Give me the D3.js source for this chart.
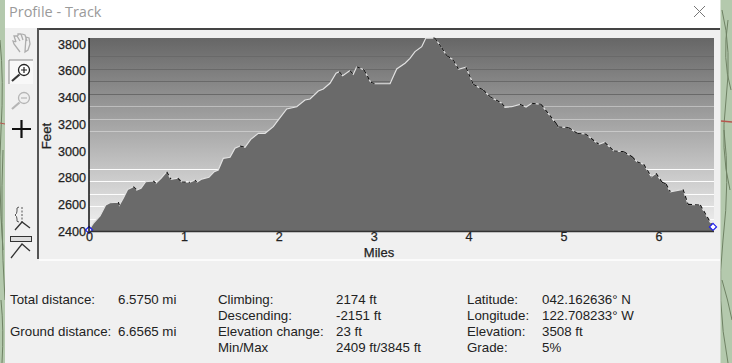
<!DOCTYPE html>
<html>
<head>
<meta charset="utf-8">
<script src="https://cdn.jsdelivr.net/npm/d3@7"></script>
<style>
html, body { margin: 0; padding: 0; background: #fff; overflow: hidden; }
text { font-family: "Liberation Sans", Arial, sans-serif; }
</style>
</head>
<body>
<div id="chart-area"></div>
<script>
// values
var miles = [0,.045,.116,.176,.221,.309,.319,.361,.408,.467,.503,.548,.597,.678,.703,.759,.819,.864,.935,.977,
  1.064,1.117,1.135,1.188,1.264,1.320,1.362,1.415,1.486,1.538,1.591,1.644,1.704,1.784,1.855,1.942,1.995,
  2.083,2.189,2.276,2.329,2.416,2.469,2.539,2.603,2.637,2.673,2.750,2.785,2.821,2.898,2.968,
  3.014,3.172,3.242,3.330,3.382,3.435,3.506,3.548,3.628,3.646,3.716,3.769,3.839,3.892,3.972,
  4.049,4.155,4.225,4.349,4.383,4.454,4.541,4.605,4.665,4.763,4.921,4.945,
  5.052,5.147,5.230,5.371,5.434,5.529,5.634,5.722,5.774,5.845,5.925,5.975,
  6.038,6.080,6.125,6.259,6.312,6.441,6.575];
var feet = [2409,2459,2514,2596,2613,2618,2594,2646,2713,2733,2708,2721,2770,2776,2758,2796,2845,2788,2796,2768,
  2766,2783,2766,2790,2803,2845,2858,2945,2953,3020,3037,3028,3087,3132,3132,3182,3232,
  3314,3331,3381,3389,3449,3464,3506,3581,3593,3563,3601,3574,3630,3606,3514,
  3503,3503,3613,3656,3693,3743,3780,3843,3845,3843,3773,3713,3681,3611,3626,
  3499,3456,3406,3357,3327,3331,3349,3329,3357,3349,3207,3179,
  3176,3131,3127,3050,3065,3000,2995,2957,2920,2900,2808,2833,
  2766,2753,2695,2713,2601,2596,2432];
var yTicks = [2400,2600,2800,3000,3200,3400,3600,3800];
var xTicks = [0,1,2,3,4,5,6];
var gridFeet = [3710,3616,3523,3429,3336,3242,3148,3055,2961,2868,2774,2681,2587,2494];

var statRows = [
  ["Total distance:", 10, 299], ["6.5750 mi", 118, 299],
  ["Ground distance:", 10, 331], ["6.6565 mi", 118, 331],
  ["Climbing:", 218, 299], ["2174 ft", 336, 299],
  ["Descending:", 218, 315], ["-2151 ft", 336, 315],
  ["Elevation change:", 218, 331], ["23 ft", 336, 331],
  ["Min/Max", 218, 347], ["2409 ft/3845 ft", 336, 347],
  ["Latitude:", 467, 299], ["042.162636° N", 542, 299],
  ["Longitude:", 467, 315], ["122.708233° W", 542, 315],
  ["Elevation:", 467, 331], ["3508 ft", 542, 331],
  ["Grade:", 467, 347], ["5%", 542, 347]
];

var W = 732, H = 363;
var svg = d3.select("#chart-area").append("svg")
  .attr("width", W).attr("height", H)
  .style("display", "block");

var x = d3.scaleLinear().domain([0, 6.575]).range([89, 713]);
var y = d3.scaleLinear().domain([2400, 3845]).range([231.2, 38]);

var defs = svg.append("defs");
var grad = defs.append("linearGradient").attr("id", "sky")
  .attr("x1", 0).attr("y1", 0).attr("x2", 0).attr("y2", 1);
grad.append("stop").attr("offset", "0%").attr("stop-color", "#666");
grad.append("stop").attr("offset", "100%").attr("stop-color", "#f2f2f2");

// map showing behind the window
svg.append("rect").attr("width", W).attr("height", H).attr("fill", "#b4c9ad");
var mapLines = ["M0 40 Q4 80 1 130 T3 250", "M3 150 Q0 220 5 300", "M1 300 Q4 330 2 363",
  "M722 10 Q732 50 726 100 T730 190", "M724 130 Q730 180 723 240 T728 363", "M728 20 Q722 60 731 90", "M722 280 Q728 300 732 320"];
svg.selectAll(".contour").data(mapLines).enter().append("path")
  .attr("class", "contour").attr("d", d => d)
  .attr("fill", "none").attr("stroke", "#6f8264").attr("stroke-width", 1);
svg.append("path").attr("d", "M721 121 L732 122").attr("stroke", "#b5574f").attr("stroke-width", 1.5);
svg.append("path").attr("d", "M0 123 L5 124").attr("stroke", "#b5574f").attr("stroke-width", 1);

// window
svg.append("rect").attr("x", 5).attr("y", 0).attr("width", 715.5).attr("height", 28).attr("fill", "#fff");
svg.append("rect").attr("x", 5).attr("y", 28).attr("width", 715.5).attr("height", 335).attr("fill", "#f0f0f0");
svg.append("text").attr("x", 9).attr("y", 17).attr("fill", "#9a9a9a")
  .style("font-family", "'Open Sans', sans-serif").style("font-size", "14.5px")
  .text("Profile - Track");
svg.append("path").attr("d", "M694 6 L705 17 M705 6 L694 17").attr("stroke", "#777").attr("stroke-width", 1).attr("fill", "none");

// panel borders
svg.append("rect").attr("x", 37).attr("y", 28).attr("width", 683).attr("height", 2).attr("fill", "#444");
svg.append("rect").attr("x", 37).attr("y", 28).attr("width", 2).attr("height", 231).attr("fill", "#555");
svg.append("rect").attr("x", 39).attr("y", 259).attr("width", 681).attr("height", 2).attr("fill", "#fbfbfb");

// toolbar icons
var tools = svg.append("g");
tools.append("rect").attr("x", 9).attr("y", 60).attr("width", 24).attr("height", 24).attr("fill", "#f8f8f8");
tools.append("path").attr("d", "M9 84 V60 H33").attr("fill", "none").attr("stroke", "#888");
// hand
tools.append("path").attr("d", "M20 52 L14 44 L13 41 L16 42 M16 42 L14 36 L17 36 L20 41 M18 36 L18 34 L21 34 L23 40 M22 34 L25 35 L27 41 M26 37 L29 38 L30 44 L28 50 L25 52 Z")
  .attr("fill", "none").attr("stroke", "#adadad").attr("stroke-width", 1.3);
// zoom in
tools.append("circle").attr("cx", 24).attr("cy", 70).attr("r", 5.5).attr("fill", "#fff").attr("stroke", "#222").attr("stroke-width", 1.3);
tools.append("path").attr("d", "M21 70 H27 M24 67 V73").attr("stroke", "#222").attr("stroke-width", 1.2);
tools.append("path").attr("d", "M19.5 74.5 L12 81").attr("stroke", "#333").attr("stroke-width", 2.2);
// zoom out
tools.append("circle").attr("cx", 24).attr("cy", 98).attr("r", 5.5).attr("fill", "none").attr("stroke", "#b5b5b5").attr("stroke-width", 1.3);
tools.append("path").attr("d", "M21 98 H27").attr("stroke", "#b5b5b5").attr("stroke-width", 1.2);
tools.append("path").attr("d", "M19.5 102.5 L12 109").attr("stroke", "#b5b5b5").attr("stroke-width", 2.2);
// crosshair
tools.append("path").attr("d", "M12 129 H31 M21.5 120 V138").attr("stroke", "#111").attr("stroke-width", 2.2);
// profile tools
tools.append("path").attr("d", "M19 207 Q16 207 17 211 Q17 214 15 215 Q17 216 17 219 Q16 222 19 222").attr("fill", "none").attr("stroke", "#555");
tools.append("path").attr("d", "M22 207 V223").attr("stroke", "#555").attr("stroke-dasharray", "2 1.5");
tools.append("path").attr("d", "M15 230 L22 222 L30 228").attr("fill", "none").attr("stroke", "#333").attr("stroke-width", 1.3);
tools.append("rect").attr("x", 10.5).attr("y", 236.5).attr("width", 21).attr("height", 5).attr("fill", "#ddd").attr("stroke", "#333");
tools.append("path").attr("d", "M11 258 L22 244 L30 251").attr("fill", "none").attr("stroke", "#333").attr("stroke-width", 1.3);

// plot background
var plot = svg.append("g");
plot.append("rect").attr("x", 89).attr("y", 38).attr("width", 625).attr("height", y(2400) - 38)
  .attr("fill", "url(#sky)");

function gridColor(f) {
  if (f > 3400) return "#696969";
  if (f > 3300) return "#bdbdbd";
  if (f > 3200) return "#c4c4c4";
  if (f > 3100) return "#c9c9c9";
  if (f > 2900) return "none";
  return "#fdfdfd";
}
plot.selectAll(".grid").data(gridFeet).enter().append("line")
  .attr("class", "grid")
  .attr("x1", 89).attr("x2", 714)
  .attr("y1", d => Math.round(y(d)) + .5).attr("y2", d => Math.round(y(d)) + .5)
  .attr("stroke", gridColor).attr("stroke-width", 1.2);

// profile
var track = miles.map((m, i) => [m, feet[i]]);
var area = d3.area().x(d => x(d[0])).y0(y(2400)).y1(d => y(d[1]));
var line = d3.line().x(d => x(d[0])).y(d => y(d[1]));
plot.append("path").datum(track).attr("d", area).attr("fill", "#6a6a6a");
plot.append("path").datum(track).attr("d", line)
  .attr("fill", "none").attr("stroke", "#e2e2e2").attr("stroke-width", 1.2);
// downhill stretches get black dashes over the light line
var down = d3.pairs(track).filter(p => p[1][1] < p[0][1]);
plot.selectAll(".down").data(down).enter().append("path")
  .attr("class", "down").attr("d", line)
  .attr("fill", "none").attr("stroke", "#111").attr("stroke-width", 1.1)
  .attr("stroke-dasharray", "4 3");

// axes
var yAxis = d3.axisLeft(y).tickValues(yTicks).tickSize(0).tickPadding(3).tickFormat(d3.format("d"));
var xAxis = d3.axisBottom(x).tickValues(xTicks).tickSize(0).tickPadding(1).tickFormat(d3.format("d"));
var yG = svg.append("g").attr("transform", "translate(89,0)").call(yAxis);
var xG = svg.append("g").attr("transform", "translate(0,231)").call(xAxis);
yG.select(".domain").attr("stroke", "#111").attr("stroke-width", 1.5).attr("d", "M0 38 V232");
xG.select(".domain").attr("stroke", "#333").attr("stroke-width", 1.5).attr("d", "M89 0.5 H714");
svg.selectAll(".tick text").attr("fill", "#222").attr("stroke", "#222").attr("stroke-width", .25)
  .style("font-family", "'Liberation Sans', Arial, sans-serif").style("font-size", "12.6px");

svg.append("text").attr("transform", "translate(51,136) rotate(-90)")
  .attr("text-anchor", "middle").attr("fill", "#222").attr("stroke", "#222").attr("stroke-width", .25)
  .style("font-size", "13.3px").text("Feet");
svg.append("text").attr("x", 379).attr("y", 257)
  .attr("text-anchor", "middle").attr("fill", "#222").attr("stroke", "#222").attr("stroke-width", .25)
  .style("font-size", "13px").text("Miles");

// end markers
plot.selectAll(".end").data([track[0], track[track.length - 1]]).enter().append("path")
  .attr("class", "end")
  .attr("transform", d => "translate(" + x(d[0]) + "," + y(d[1]) + ")")
  .attr("d", "M0 -3.5 L3.5 0 L0 3.5 L-3.5 0 Z")
  .attr("fill", "#fff").attr("stroke", "#1a1aee").attr("stroke-width", 1.2);

// track statistics
svg.selectAll(".stat").data(statRows).enter().append("text")
  .attr("class", "stat")
  .attr("x", d => d[1]).attr("y", d => d[2] + 4.5)
  .attr("fill", "#222").style("font-size", "13.3px")
  .text(d => d[0]);
</script>
</body>
</html>
